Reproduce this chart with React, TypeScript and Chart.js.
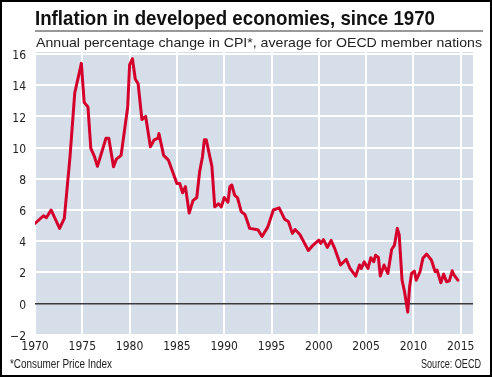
import { useEffect, useRef } from "react";
import { Chart, registerables } from "chart.js";
Chart.register(...registerables);

const years = [
  1970.0, 1970.9, 1971.2, 1971.7, 1972.6, 1973.1, 1973.7, 1974.2, 1974.9, 1975.2,
  1975.6, 1975.9, 1976.3, 1976.6, 1977.5, 1977.8, 1978.3, 1978.6, 1979.1, 1979.8,
  1980.0, 1980.3, 1980.6, 1980.9, 1981.3, 1981.7, 1982.2, 1982.6, 1983.0, 1983.1,
  1983.6, 1984.1, 1985.0, 1985.3, 1985.6, 1985.9, 1986.3, 1986.7, 1987.1, 1987.4,
  1987.7, 1987.9, 1988.1, 1988.7, 1989.0, 1989.4, 1989.7, 1990.0, 1990.4, 1990.6,
  1990.8, 1991.1, 1991.4, 1991.8, 1992.2, 1992.7, 1993.4, 1993.6, 1994.0, 1994.6,
  1995.2, 1995.8, 1996.4, 1996.8, 1997.2, 1997.5, 1998.0, 1998.9, 1999.4, 2000.0,
  2000.2, 2000.5, 2000.9, 2001.3, 2001.7, 2002.3, 2002.9, 2003.3, 2003.9, 2004.3,
  2004.5, 2004.8, 2005.2, 2005.5, 2005.8, 2006.0, 2006.3, 2006.5, 2006.9, 2007.3,
  2007.7, 2008.0, 2008.3, 2008.5, 2008.8, 2009.05, 2009.4, 2009.6, 2009.8, 2010.1,
  2010.3, 2010.7, 2011.0, 2011.4, 2011.9, 2012.3, 2012.5, 2012.9, 2013.2, 2013.5,
  2013.8, 2014.1, 2014.3, 2014.7,
];
const cpi = [
  5.14, 5.63, 5.5, 6.0, 4.82, 5.46, 9.4, 13.5, 15.4, 12.9,
  12.6, 9.95, 9.4, 8.8, 10.6, 10.6, 8.77, 9.26, 9.5, 12.6,
  15.3, 15.7, 14.4, 14.1, 11.8, 12.0, 10.05, 10.5, 10.6, 10.9,
  9.5, 9.2, 7.7, 7.7, 7.1, 7.5, 5.8, 6.6, 6.8, 8.45,
  9.4, 10.5, 10.5, 8.8, 6.2, 6.4, 6.2, 6.8, 6.5, 7.5,
  7.6, 6.96, 6.8, 5.9, 5.7, 4.82, 4.75, 4.7, 4.3, 4.9,
  6.0, 6.14, 5.4, 5.25, 4.5, 4.75, 4.43, 3.4, 3.75, 4.07,
  3.86, 4.1, 3.6, 4.05, 3.5, 2.47, 2.83, 2.25, 1.76, 2.47,
  2.25, 2.68, 2.25, 2.94, 2.68, 3.1, 2.96, 1.76, 2.47, 1.93,
  3.47, 3.75, 4.82, 4.4, 1.5, 0.8, -0.55, 1.08, 1.93, 2.08,
  1.5, 2.04, 2.9, 3.17, 2.79, 2.04, 2.15, 1.33, 1.89, 1.4,
  1.46, 2.1, 1.83, 1.5,
];
const xTicks = [1970, 1975, 1980, 1985, 1990, 1995, 2000, 2005, 2010, 2015];
const yTicks = [-2, 0, 2, 4, 6, 8, 10, 12, 14, 16];
const titleText = "Inflation in developed economies, since 1970";
const subtitleText = "Annual percentage change in CPI*, average for OECD member nations";
const footnoteText = "*Consumer Price Index";
const sourceText = "Source: OECD";

function fitText(ctx: CanvasRenderingContext2D, text: string, x: number, y: number, width: number) {
  const w = ctx.measureText(text).width;
  ctx.save();
  ctx.translate(x, y);
  ctx.scale(width / w, 1);
  ctx.textAlign = "left";
  ctx.fillText(text, 0, 0);
  ctx.restore();
}

const decorPlugin = {
  id: "decor",
  beforeDraw(chart: any) {
    const { ctx, chartArea: a } = chart;
    ctx.save();
    ctx.fillStyle = "#ffffff";
    ctx.fillRect(0, 0, chart.width, chart.height);
    ctx.fillStyle = "#d6deea";
    ctx.fillRect(a.left, a.top, a.right - a.left, a.bottom - a.top);
    ctx.restore();
  },
  afterDraw(chart: any) {
    const { ctx } = chart;
    ctx.save();
    ctx.fillStyle = "#111111";
    ctx.textBaseline = "alphabetic";
    ctx.font = "bold 21px 'Liberation Sans', Arial, sans-serif";
    fitText(ctx, titleText, 35, 25, 400);
    ctx.strokeStyle = "#333333";
    ctx.lineWidth = 1.2;
    ctx.beginPath();
    ctx.moveTo(35, 31);
    ctx.lineTo(483, 31);
    ctx.stroke();
    ctx.fillStyle = "#222222";
    ctx.font = "13.5px 'Liberation Sans', Arial, sans-serif";
    fitText(ctx, subtitleText, 36, 47, 446);
    ctx.font = "12px 'Liberation Sans', Arial, sans-serif";
    fitText(ctx, footnoteText, 10, 368, 102);
    fitText(ctx, sourceText, 421, 368, 60);
    ctx.strokeStyle = "#000000";
    ctx.lineWidth = 2;
    ctx.strokeRect(1, 1, chart.width - 2, chart.height - 2);
    ctx.restore();
  },
};

export default function App() {
  const ref = useRef<HTMLCanvasElement>(null);
  useEffect(() => {
    if (!ref.current) return;
    const points = years.map((y, i) => ({ x: y, y: cpi[i] }));
    const tickFont = { family: "'Liberation Sans Narrow', 'DejaVu Sans Condensed', sans-serif", size: 12 };
    const chart = new Chart(ref.current, {
      type: "line",
      data: {
        datasets: [
          {
            data: points,
            borderColor: "#d4002b",
            borderWidth: 3,
            pointRadius: 0,
            tension: 0,
            borderJoinStyle: "round",
            borderCapStyle: "round",
          },
        ],
      },
      options: {
        animation: false,
        responsive: false,
        devicePixelRatio: 1,
        layout: { padding: { top: 52, right: 19, bottom: 0, left: 0 } },
        plugins: { legend: { display: false }, tooltip: { enabled: false }, title: { display: false } },
        scales: {
          x: {
            type: "linear",
            min: 1970,
            max: 2016.3,
            afterBuildTicks: (s: any) => {
              s.ticks = xTicks.map((v) => ({ value: v }));
            },
            afterFit: (s: any) => {
              s.height = 41;
            },
            grid: { color: "#ffffff", lineWidth: 2, drawTicks: false },
            border: { display: false },
            ticks: {
              padding: 4,
              color: "#222222",
              font: tickFont,
              maxRotation: 0,
              callback: (v: any) => String(v),
            },
          },
          y: {
            type: "linear",
            min: -2.08,
            max: 16.13,
            afterBuildTicks: (s: any) => {
              s.ticks = yTicks.map((v) => ({ value: v }));
            },
            afterFit: (s: any) => {
              s.width = 35;
            },
            grid: {
              color: (c: any) => (c.tick && c.tick.value === 0 ? "#3a3a3a" : "#ffffff"),
              lineWidth: (c: any) => (c.tick && c.tick.value === 0 ? 1.5 : 2),
              drawTicks: false,
            },
            border: { display: false },
            ticks: {
              padding: 9,
              labelOffset: 2,
              color: "#222222",
              font: tickFont,
              callback: (v: any) => (v < 0 ? "\u2212" + Math.abs(v) : String(v)),
            },
          },
        },
      },
      plugins: [decorPlugin],
    } as any);
    return () => chart.destroy();
  }, []);
  return (
    <div style={{ position: "fixed", left: 0, top: 0, width: 492, height: 377 }}>
      <canvas ref={ref} width={492} height={377} style={{ display: "block", width: 492, height: 377 }} />
    </div>
  );
}
